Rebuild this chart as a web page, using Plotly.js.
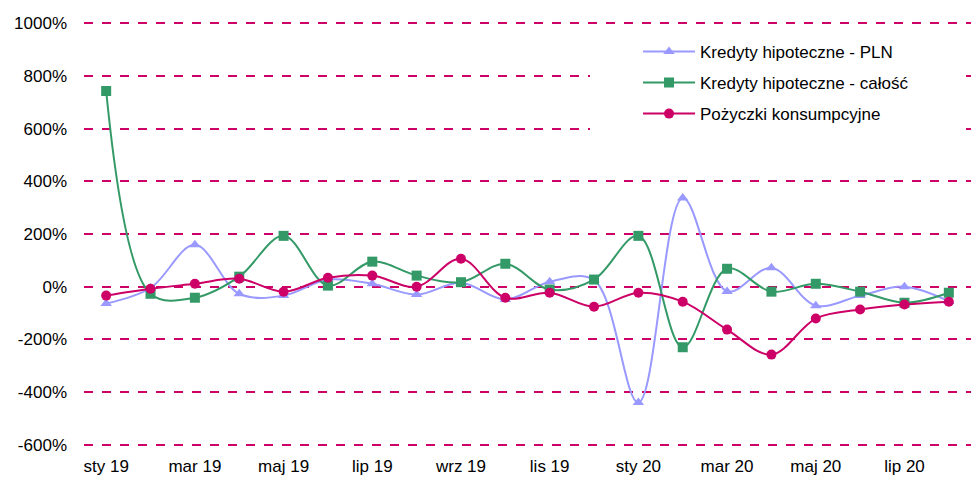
<!DOCTYPE html>
<html>
<head>
<meta charset="utf-8">
<script src="https://cdn.plot.ly/plotly-3.0.1.min.js"></script>
<style>
  body { margin: 0; background: #fff; }
  #chart { width: 971px; height: 479px; }
</style>
</head>
<body>
<div id="chart"></div>
<script>
// miesiące sty 19 - sie 20
const months = ["sty 19", "lut 19", "mar 19", "kwi 19", "maj 19", "cze 19", "lip 19", "sie 19",
    "wrz 19", "paź 19", "lis 19", "gru 19", "sty 20", "lut 20", "mar 20", "kwi 20",
    "maj 20", "cze 20", "lip 20", "sie 20"];

// wartości w %
const hipoPLN = [-64, -5, 159, -27, -34, 27, 11, -30, 15, -49, 19, 25, -440, 337, -18, 72, -72, -34, 0, -55];
const hipoCalosc = [743, -27, -42, 38, 193, 4, 95, 42, 17, 87, -11, 27, 193, -230, 68, -19, 11, -19, -61, -23];
const pozyczki = [-34, -8, 11, 30, -19, 34, 42, 0, 106, -42, -23, -76, -23, -57, -163, -258, -121, -87, -68, -57];

const tickMonths = months.filter((m, i) => i % 2 === 0);
const yTicks = [-600, -400, -200, 0, 200, 400, 600, 800, 1000];

function series(name, values, color, symbol, group) {
    return {
        x: months,
        y: values,
        name: name,
        legendgroup: group,
        type: 'scatter',
        mode: 'lines+markers',
        line: { color: color, width: 2, shape: 'spline', smoothing: 1 },
        marker: { color: color, symbol: symbol, size: 10 }
    };
}

const traces = [
    series("Kredyty hipoteczne - PLN", hipoPLN, '#9999FF', 'triangle-up', 'a'),
    series("Kredyty hipoteczne - całość", hipoCalosc, '#339966', 'square', 'b'),
    series("Pożyczki konsumpcyjne", pozyczki, '#CC0066', 'circle', 'c')
];

Plotly.newPlot("chart", traces, {
    width: 971,
    height: 479,
    margin: { l: 84, r: 0, t: 22, b: 33 },
    paper_bgcolor: '#fff',
    plot_bgcolor: '#fff',
    font: { family: 'Liberation Sans, Arial, sans-serif', size: 17, color: '#000' },
    xaxis: {
        type: 'category',
        range: [-0.5, 19.5],
        tickvals: tickMonths,
        ticktext: tickMonths,
        showgrid: false,
        showline: false,
        ticks: '',
        zeroline: false,
        ticklabelstandoff: 8
    },
    yaxis: {
        range: [-605, 1005],
        tickvals: yTicks,
        ticktext: yTicks.map(v => v + "%"),
        showgrid: true,
        gridcolor: '#CC0066',
        griddash: 'dash',
        gridwidth: 2,
        zeroline: false,
        showline: false,
        ticks: '',
        ticklabelstandoff: 16
    },
    // białe tło legendy zasłaniające linie siatki
    shapes: [{
        type: 'rect',
        xref: 'paper', yref: 'paper',
        x0: 0.5705, x1: 0.991, y0: 0.722, y1: 0.969,
        fillcolor: '#fff',
        line: { width: 0 },
        layer: 'above'
    }],
    legend: {
        x: 0.6246,
        y: 0.972,
        xanchor: 'left',
        yanchor: 'top',
        bgcolor: 'rgba(255,255,255,0)',
        font: { size: 17 },
        tracegroupgap: 6,
        itemwidth: 52
    },
    showlegend: true
}, { staticPlot: true });
</script>
</body>
</html>
